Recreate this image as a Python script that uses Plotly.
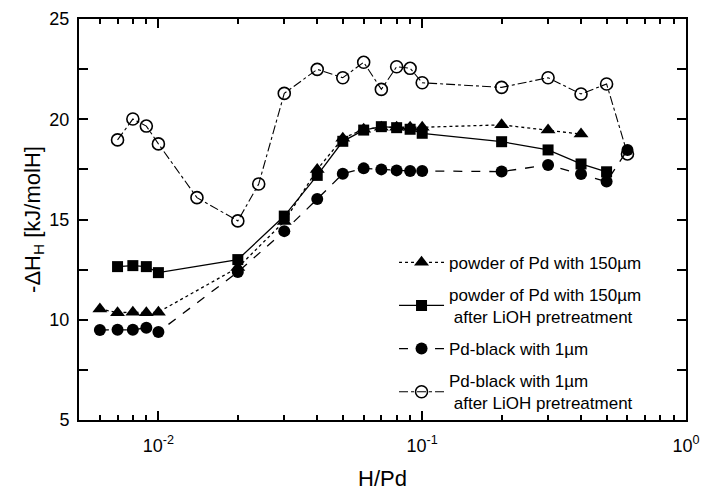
import plotly.graph_objects as go

# ---- data ----
x_tri = [0.006, 0.007, 0.008, 0.009, 0.01, 0.02, 0.03, 0.04, 0.05, 0.06, 0.07, 0.08, 0.09, 0.1, 0.2, 0.3, 0.4]
y_tri = [10.54, 10.35, 10.38, 10.35, 10.38, 12.6, 14.9, 17.5, 19.05, 19.5, 19.6, 19.6, 19.6, 19.6, 19.72, 19.47, 19.26]

x_sq = [0.007, 0.008, 0.009, 0.01, 0.02, 0.03, 0.04, 0.05, 0.06, 0.07, 0.08, 0.09, 0.1, 0.2, 0.3, 0.4, 0.5]
y_sq = [12.65, 12.7, 12.65, 12.35, 13.0, 15.17, 17.2, 18.9, 19.46, 19.63, 19.58, 19.5, 19.3, 18.88, 18.47, 17.77, 17.38]

x_fc = [0.006, 0.007, 0.008, 0.009, 0.01, 0.02, 0.03, 0.04, 0.05, 0.06, 0.07, 0.08, 0.09, 0.1, 0.2, 0.3, 0.4, 0.5, 0.6]
y_fc = [9.49, 9.5, 9.5, 9.6, 9.39, 12.38, 14.42, 16.02, 17.28, 17.55, 17.5, 17.45, 17.42, 17.42, 17.39, 17.72, 17.27, 16.89, 18.47]

x_oc = [0.007, 0.008, 0.009, 0.01, 0.014, 0.02, 0.024, 0.03, 0.04, 0.05, 0.06, 0.07, 0.08, 0.09, 0.1, 0.2, 0.3, 0.4, 0.5, 0.6]
y_oc = [18.97, 20.01, 19.66, 18.77, 16.09, 14.93, 16.77, 21.29, 22.49, 22.07, 22.84, 21.49, 22.62, 22.54, 21.82, 21.59, 22.07, 21.26, 21.76, 18.27]

names = [
    "powder of Pd with 150\u00b5m",
    "powder of Pd with 150\u00b5m<br> after LiOH pretreatment",
    "Pd-black with 1\u00b5m",
    "Pd-black with 1\u00b5m<br> after LiOH pretreatment",
]

x_major = [0.01, 0.1, 1]
x_major_text = ["10<sup>-2</sup>", "10<sup>-1</sup>", "10<sup>0</sup>"]
x_minor = [m * d for d in (0.001, 0.01, 0.1) for m in range(2, 10) if m * d > 0.005]
y_major = [5, 10, 15, 20, 25]
y_minor = [7.5, 12.5, 17.5, 22.5]

FONT = "Liberation Sans, Arial, sans-serif"

fig = go.Figure()
fig.add_trace(go.Scatter(x=x_tri, y=y_tri, name=names[0], mode="lines+markers",
                         line=dict(color="black", width=1.3, dash="dot"),
                         marker=dict(symbol="triangle-up", size=13, color="black"),
                         legendgroup="a"))
fig.add_trace(go.Scatter(x=x_sq, y=y_sq, name=names[1], mode="lines+markers",
                         line=dict(color="black", width=1.3, dash="solid"),
                         marker=dict(symbol="square", size=11, color="black"),
                         legendgroup="b"))
fig.add_trace(go.Scatter(x=x_fc, y=y_fc, name=names[2], mode="lines+markers",
                         line=dict(color="black", width=1.3, dash="dash"),
                         marker=dict(symbol="circle", size=12, color="black"),
                         legendgroup="c"))
fig.add_trace(go.Scatter(x=x_oc, y=y_oc, name=names[3], mode="lines+markers",
                         line=dict(color="black", width=1.1, dash="dashdot"),
                         marker=dict(symbol="circle-open", size=12, color="black",
                                     line=dict(width=1.6, color="black")),
                         legendgroup="d"))

fig.update_layout(
    width=702, height=491,
    margin=dict(l=79, r=16, t=19, b=71, autoexpand=False),
    paper_bgcolor="white", plot_bgcolor="white",
    font=dict(family=FONT, size=18, color="black"),
    showlegend=True,
    legend=dict(x=0.519, y=0.437, xanchor="left", yanchor="top",
                bgcolor="rgba(0,0,0,0)", borderwidth=0,
                font=dict(family=FONT, size=17, color="black"),
                tracegroupgap=7, itemwidth=45),
)
fig.update_xaxes(
    type="log", range=[-2.30103, 0], automargin=False,
    tickmode="array", tickvals=x_major, ticktext=x_major_text,
    ticks="inside", ticklen=9, tickwidth=1.5, tickcolor="black",
    minor=dict(tickmode="array", tickvals=x_minor, ticks="inside", ticklen=5,
               tickwidth=1.5, tickcolor="black"),
    showline=True, linewidth=2, linecolor="black", mirror="allticks",
    showgrid=False, zeroline=False,
    ticklabelstandoff=8,
    tickfont=dict(size=18),
    title=dict(text="H/Pd", font=dict(size=22), standoff=17),
)
fig.update_yaxes(
    range=[5, 25], automargin=False,
    tickmode="array", tickvals=y_major, ticktext=[str(v) for v in y_major],
    ticks="inside", ticklen=9, tickwidth=1.5, tickcolor="black",
    minor=dict(tickmode="array", tickvals=y_minor, ticks="inside", ticklen=9,
               tickwidth=1.5, tickcolor="black"),
    showline=True, linewidth=2, linecolor="black", mirror="allticks",
    showgrid=False, zeroline=False,
    ticklabelstandoff=4,
    tickfont=dict(size=18),
    title=dict(text="-\u0394H<sub>H</sub> [kJ/molH]", font=dict(size=22), standoff=3),
)

fig.write_html("out.html")
